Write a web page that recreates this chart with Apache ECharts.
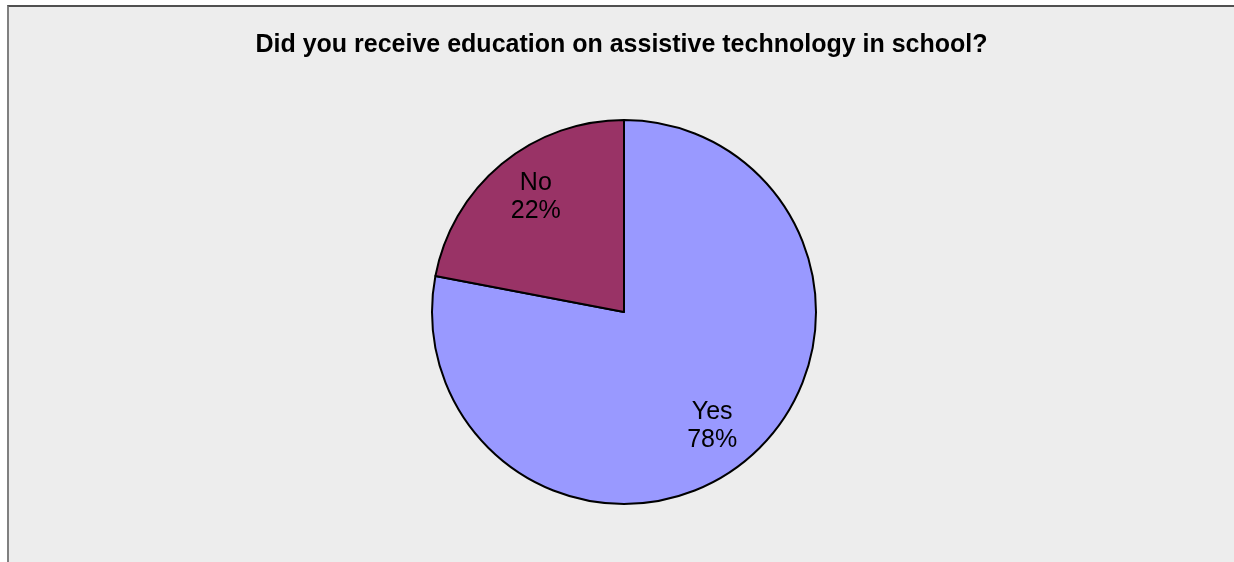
<!DOCTYPE html>
<html>
<head>
<meta charset="utf-8">
<script src="https://cdn.jsdelivr.net/npm/echarts@6/dist/echarts.min.js"></script>
<style>
  html, body { margin: 0; padding: 0; background: #ffffff; }
  #frame {
    position: absolute; left: 7px; top: 5px;
    width: 1227px; height: 557px;
    box-sizing: border-box;
    background: #ededed;
    border-left: 2px solid #808080;
    border-top: 2px solid #505050;
  }
  #chart { width: 1225px; height: 555px; }
</style>
</head>
<body>
<div id="frame"><div id="chart"></div></div>
<script>
const titleText = "Did you receive education on assistive technology in school?";
const categories = ["Yes", "No"];
const values = [78, 22];
const colors = ["#9999ff", "#993366"];

const chart = echarts.init(document.getElementById("chart"));

const pieData = categories.map((name, i) => ({
  name: name,
  value: values[i],
  itemStyle: { color: colors[i] },
}));

const option = {
  backgroundColor: "transparent",
  animation: false,
  title: {
    text: titleText,
    left: "center",
    top: 21,
    textStyle: {
      fontFamily: "Liberation Sans",
      fontSize: 25,
      fontWeight: "bold",
      color: "#000",
    },
  },
  series: [
    {
      type: "pie",
      center: [615, 305],
      radius: [0, 192],
      startAngle: 90,
      clockwise: true,
      silent: true,
      label: { show: false },
      labelLine: { show: false },
      itemStyle: { borderColor: "#000", borderWidth: 2 },
      data: pieData,
    },
    {
      // transparent ring only used to place the labels further out
      type: "pie",
      center: [615, 305],
      radius: [91, 192],
      startAngle: 88,
      clockwise: true,
      silent: true,
      itemStyle: { color: "transparent", borderWidth: 0 },
      label: {
        show: true,
        position: "inside",
        formatter: "{b}\n{d}%",
        fontFamily: "Liberation Sans",
        fontSize: 25,
        lineHeight: 28,
        color: "#000",
      },
      labelLine: { show: false },
      data: categories.map((name, i) => ({ name: name, value: values[i] })),
    },
  ],
};

chart.setOption(option);
</script>
</body>
</html>
